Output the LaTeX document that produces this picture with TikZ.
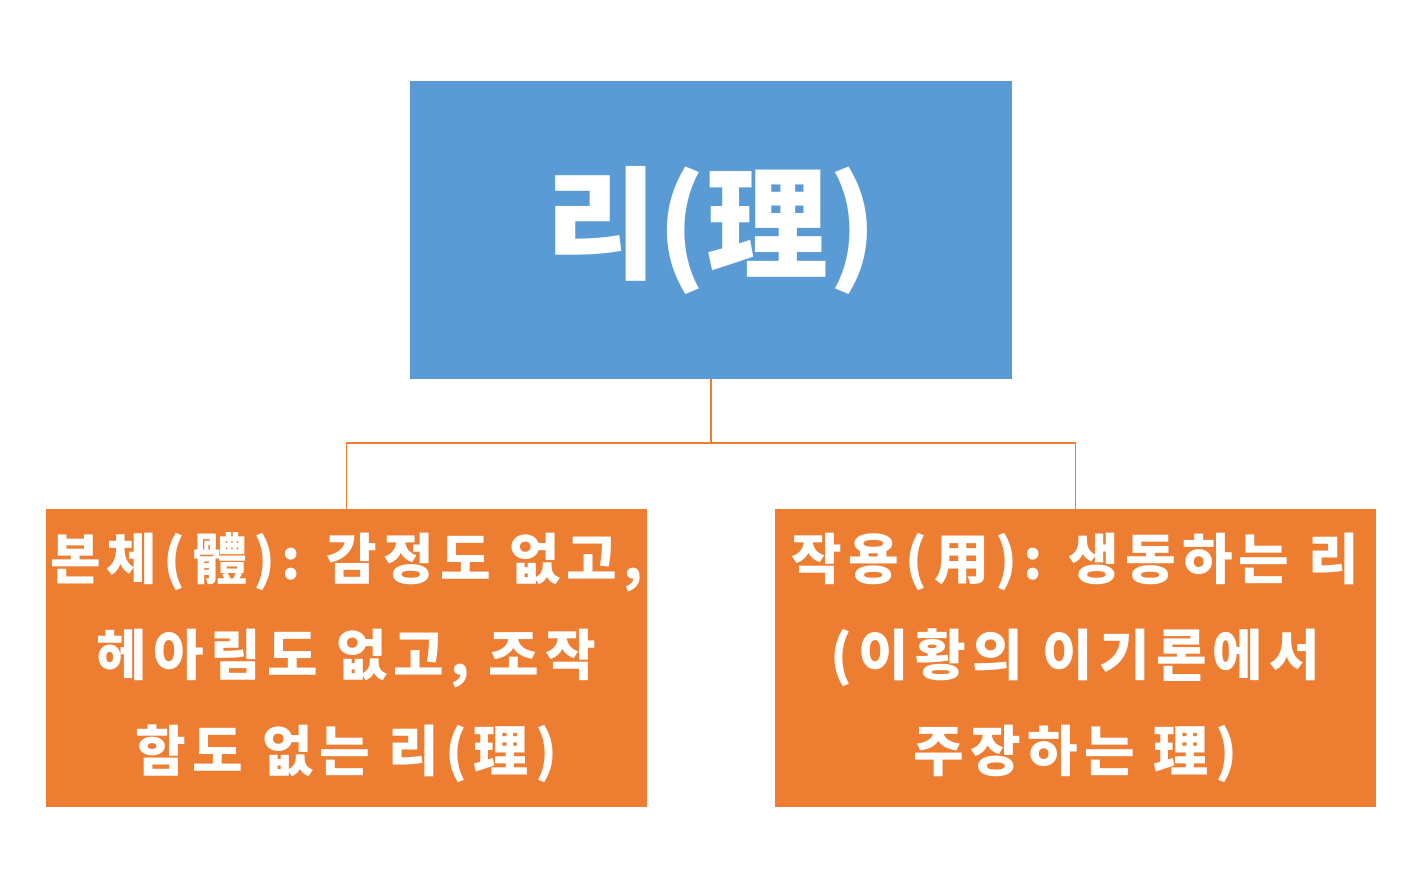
\documentclass[tikz,border=0pt]{standalone}
\usepackage{fontspec}
\newfontfamily\krfont{Noto Sans CJK KR}
\newfontfamily\krwide[LetterSpace=11.5]{Noto Sans CJK KR}
\definecolor{liblue}{HTML}{5B9BD5}
\definecolor{lorange}{HTML}{ED7D31}
\tikzset{
  topbox/.style={fill=liblue,minimum width=602pt,minimum height=298pt,inner sep=0pt,
    text=white,font=\krfont\bfseries\fontsize{122}{130}\selectfont},
  subbox/.style={fill=lorange,minimum width=601pt,minimum height=298pt,inner sep=0pt,
    text=white,align=center,font=\krwide\bfseries\fontsize{55}{96}\selectfont},
  conn/.style={draw=lorange,line width=1.5pt}
}
\begin{document}
\begin{tikzpicture}[x=1pt,y=-1pt]
\useasboundingbox (0,0) rectangle (1415,889);
\node[topbox] (li) at (711,230) {리(理)};
\node[subbox] (che) at (346.5,658) {본체(體): 감정도 없고,\\헤아림도 없고, 조작\\함도 없는 리(理)};
\node[subbox] (yong) at (1075.5,658) {작용(用): 생동하는 리\\(이황의 이기론에서\\주장하는 理)};
\coordinate (mid) at (711,443);
\draw[conn] (li.south) -- (mid) -| (che.north);
\draw[conn] (mid) -| (yong.north);
\end{tikzpicture}
\end{document}
